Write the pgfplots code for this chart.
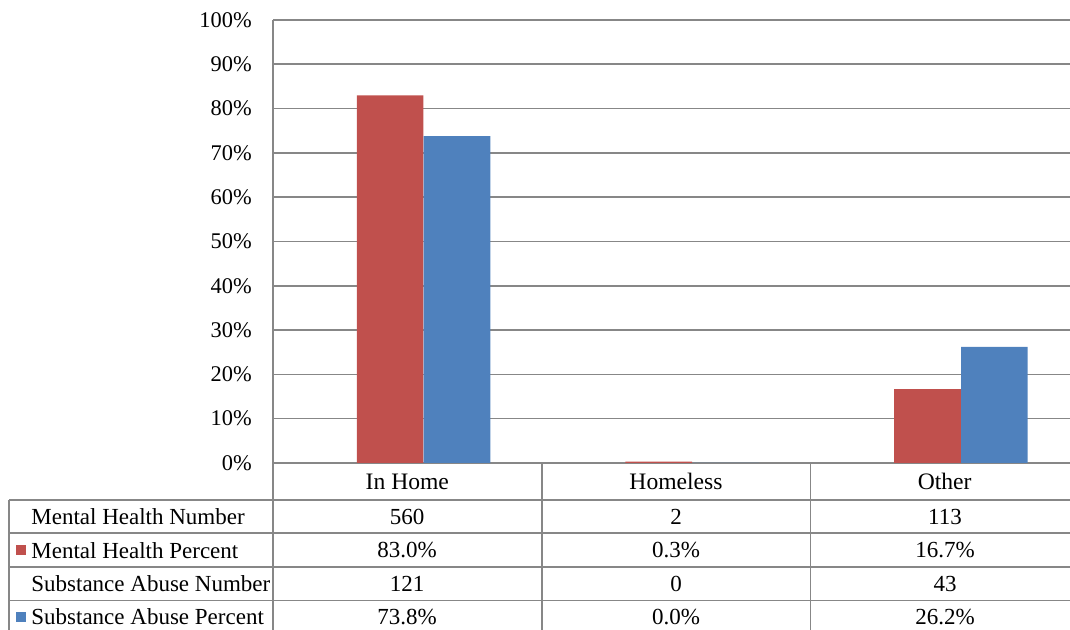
\documentclass[border=0pt]{standalone}
\usepackage{fontspec}
\setmainfont{Liberation Serif}
\usepackage{pgfplots}
\pgfplotsset{compat=1.18}
\definecolor{mhred}{HTML}{C0504D}
\definecolor{sablue}{HTML}{4F81BD}
\definecolor{gridgray}{HTML}{878787}
\begin{document}
\fontsize{11.5pt}{13pt}\selectfont
\begin{tikzpicture}
\useasboundingbox (0pt,0pt) rectangle (535pt,315pt);
\begin{axis}[
  at={(136.5pt,83.5pt)}, anchor=south west,
  scale only axis, width=403pt, height=221.5pt,
  xmin=-0.5, xmax=2.5, ymin=0, ymax=100,
  xtick={0,1,2}, xticklabels={In Home, Homeless, Other},
  ytick={0,10,...,100},
  yticklabel={\pgfmathprintnumber{\tick}\%},
  /pgf/number format/assume math mode=true,
  major tick length=0pt,
  ymajorgrids, grid style={gridgray, line width=0.8pt},
  axis x line*=bottom, axis y line*=left,
  axis line style={gridgray, line width=0.8pt, -},
  yticklabel style={font=\fontsize{11.2pt}{13pt}\selectfont, xshift=-6.6pt},
  xticklabel style={font=\fontsize{11.8pt}{13pt}\selectfont, anchor=center, yshift=-9.25pt},
  clip=false,
]
% percent series (bars)
\addplot[ybar, bar width=0.248, bar shift=-0.064, fill=mhred, draw=none]
  coordinates {(0,83.0) (1,0.3) (2,16.7)};
\addplot[ybar, bar width=0.248, bar shift=0.185, fill=sablue, draw=none]
  coordinates {(0,73.8) (1,0.0) (2,26.2)};
\end{axis}

% data table below the plot, coordinates in image pixels
\begin{scope}[x=0.5pt, y=-0.5pt, yshift=315pt]
  \begin{scope}[draw=gridgray, line width=0.8pt]
    \draw (9,500) -- (1079,500);
    \draw (9,533.3) -- (1079,533.3);
    \draw (9,567.3) -- (1079,567.3);
    \draw (9,600.7) -- (1079,600.7);
    \draw (9,500) -- (9,640);
    \draw (273,463) -- (273,640);
    \draw (541.7,463) -- (541.7,640);
    \draw (810.3,463) -- (810.3,640);
  \end{scope}
  \fill[mhred] (16,545) rectangle (26,555);
  \fill[sablue] (16,612) rectangle (26,622);
  \node[anchor=west, inner sep=0] at (31,516.7) {Mental Health Number};
  \node[anchor=west, inner sep=0] at (31,550.3) {Mental Health Percent};
  \node[anchor=west, inner sep=0] at (31,584) {Substance Abuse Number};
  \node[anchor=west, inner sep=0] at (31,617) {Substance Abuse Percent};
  \node at (407,516.7) {560};   \node at (676,516.7) {2};    \node at (945,516.7) {113};
  \node at (407,550.3) {83.0\%}; \node at (676,550.3) {0.3\%}; \node at (945,550.3) {16.7\%};
  \node at (407,584) {121};     \node at (676,584) {0};      \node at (945,584) {43};
  \node at (407,617) {73.8\%};  \node at (676,617) {0.0\%};  \node at (945,617) {26.2\%};
\end{scope}
\end{tikzpicture}
\end{document}
